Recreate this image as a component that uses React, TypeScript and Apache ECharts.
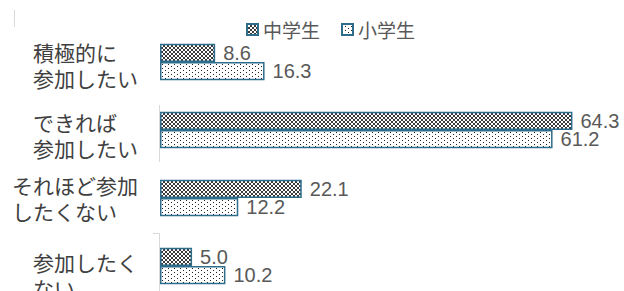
import React, { useEffect, useRef } from "react";
import * as echarts from "echarts";

const categories = ["積極的に\n参加したい", "できれば\n参加したい", "それほど参加\nしたくない", "参加したくない"];
const categoryLines = [["積極的に", "参加したい"], ["できれば", "参加したい"], ["それほど参加", "したくない"], ["参加したく", "ない"]];
const labelShift = [6, 10, 0, 18];
const seriesNames = ["中学生", "小学生"];
const juniorHigh = [8.6, 64.3, 22.1, 5.0];
const elementary = [16.3, 61.2, 12.2, 10.2];

function makePattern(w: number, h: number, dots: [number, number][], color: string) {
  const c = document.createElement("canvas");
  c.width = w;
  c.height = h;
  const ctx = c.getContext("2d")!;
  ctx.fillStyle = "#ffffff";
  ctx.fillRect(0, 0, w, h);
  ctx.fillStyle = color;
  dots.forEach(([x, y]) => ctx.fillRect(x, y, 1, 1));
  return { image: c.toDataURL(), repeat: "repeat", imageWidth: w, imageHeight: h } as any;
}

export default function App() {
  const ref = useRef<HTMLDivElement>(null);
  useEffect(() => {
    if (!ref.current) return;
    const chart = echarts.init(ref.current, undefined, { renderer: "svg" });
    const darkPattern = makePattern(
      4,
      4,
      [
        [1, 0], [2, 0],
        [0, 1], [3, 1],
        [0, 2], [3, 2],
        [1, 3], [2, 3],
      ],
      "#3a3a3a"
    );
    const lightPattern = makePattern(
      6,
      4,
      [
        [0, 0],
        [3, 2],
      ],
      "#222222"
    );
    const border = "#2f6d8d";
    const cjk = "'Noto Sans CJK JP', sans-serif";
    const num = "'Liberation Sans', Arial, sans-serif";
    const valueLabel = {
      show: true,
      position: "right",
      distance: 8,
      fontSize: 20,
      fontFamily: num,
      color: "#595959",
      formatter: (p: any) => Number(p.value).toFixed(1),
    };
    const option: any = {
      animation: false,
      legend: {
        data: seriesNames.map((n) => ({ name: n, icon: "rect" })),
        left: 241,
        top: 15,
        itemWidth: 11,
        itemHeight: 11,
        itemGap: 21,
        textStyle: { fontSize: 19, fontFamily: cjk, color: "#595959" },
      },
      grid: { left: 160, right: 15, top: 28, bottom: 0, containLabel: false },
      xAxis: { type: "value", min: 0, max: 70, show: false },
      yAxis: {
        type: "category",
        inverse: true,
        data: categories.map((c, i) => ({
          value: c,
          textStyle: { padding: [labelShift[i], 0, 0, 0] },
        })),
        axisLine: { show: false },
        axisTick: { show: false },
        splitLine: { show: false },
        axisLabel: {
          margin: 22,
          align: "right",
          formatter: (_v: string, i: number) => categoryLines[i].map((l) => `{a|${l}}`).join("\n"),
          rich: {
            a: { align: "left", fontSize: 21, lineHeight: 26, fontFamily: cjk, color: "#404040" },
          },
        },
      },
      graphic: [
        { type: "line", shape: { x1: 159.5, y1: 105, x2: 159.5, y2: 162 }, style: { stroke: "#d9d9d9", lineWidth: 1 }, z: -1 },
        { type: "line", shape: { x1: 153, y1: 233.5, x2: 159.5, y2: 233.5 }, style: { stroke: "#d9d9d9", lineWidth: 1 }, z: -1 },
        { type: "line", shape: { x1: 159.5, y1: 233, x2: 159.5, y2: 300 }, style: { stroke: "#d9d9d9", lineWidth: 1 }, z: -1 },
        { type: "line", shape: { x1: 14.5, y1: 10, x2: 14.5, y2: 27 }, style: { stroke: "#d9d9d9", lineWidth: 1 }, z: -1 },
      ],
      series: [
        {
          name: seriesNames[0],
          type: "bar",
          data: juniorHigh,
          barGap: "0%",
          barCategoryGap: "46%",
          itemStyle: { color: darkPattern, borderColor: border, borderWidth: 1.5 },
          label: valueLabel,
        },
        {
          name: seriesNames[1],
          type: "bar",
          data: elementary,
          barGap: "0%",
          barCategoryGap: "46%",
          itemStyle: { color: lightPattern, borderColor: border, borderWidth: 1.5 },
          label: valueLabel,
        },
      ],
    };
    chart.setOption(option);
    return () => chart.dispose();
  }, []);
  return (
    <div
      ref={ref}
      style={{ position: "fixed", left: 0, top: 0, width: 624, height: 300, background: "#ffffff" }}
    />
  );
}
